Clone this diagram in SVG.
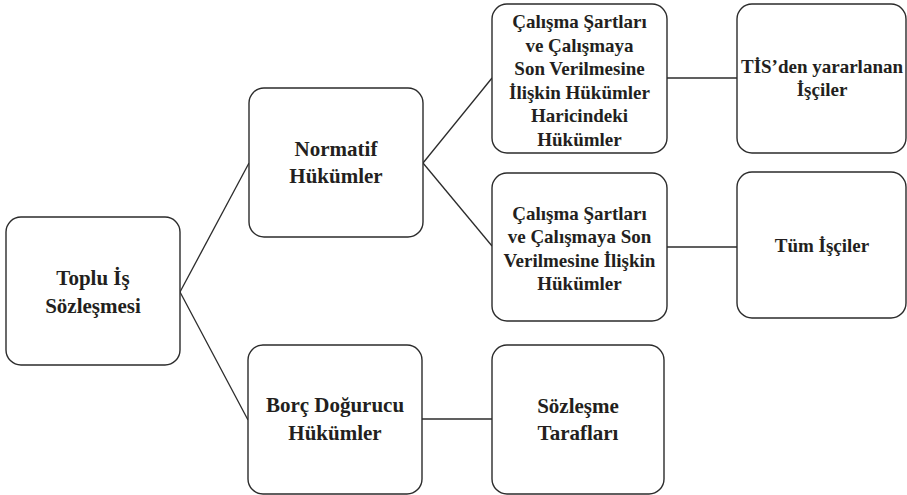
<svg xmlns="http://www.w3.org/2000/svg" width="907" height="495" viewBox="0 0 907 495">
<style>
.box{fill:#fff;stroke:#2b2b2b;stroke-width:1.4}
.t{font-family:"Liberation Serif","Times New Roman",serif;font-weight:bold;fill:#231f20;text-anchor:middle}
.l{font-size:21px}
.s{font-size:19px}
.c{stroke:#2b2b2b;stroke-width:1.3;fill:none}
</style>
<rect width="907" height="495" fill="#fff"/>
<g id="connectors">
<path class="c" d="M180 292 L249 163"/>
<path class="c" d="M180 292 L248 420"/>
<path class="c" d="M423 163 L492 78"/>
<path class="c" d="M423 163 L492 246"/>
<path class="c" d="M667 78 L737 78"/>
<path class="c" d="M667 247 L737 247"/>
<path class="c" d="M422 419 L492 419"/>
</g>
<g id="toplu">
<rect class="box" x="6" y="217" width="174" height="148" rx="15"/>
<text class="t l" x="93" y="285">Toplu İş</text>
<text class="t l" x="93" y="313">Sözleşmesi</text>
</g>
<g id="normatif">
<rect class="box" x="249" y="88" width="174" height="149" rx="15"/>
<text class="t l" x="336" y="156">Normatif</text>
<text class="t l" x="336" y="183">Hükümler</text>
</g>
<g id="haricindeki">
<rect class="box" x="492" y="4" width="175" height="149" rx="15"/>
<text class="t s" x="579.5" y="28">Çalışma Şartları</text>
<text class="t s" x="579.5" y="51.6">ve Çalışmaya</text>
<text class="t s" x="579.5" y="75.2">Son Verilmesine</text>
<text class="t s" x="579.5" y="98.8">İlişkin Hükümler</text>
<text class="t s" x="579.5" y="122.4">Haricindeki</text>
<text class="t s" x="579.5" y="146">Hükümler</text>
</g>
<g id="iliskin">
<rect class="box" x="492" y="173" width="175" height="148" rx="15"/>
<text class="t s" x="579.5" y="220">Çalışma Şartları</text>
<text class="t s" x="579.5" y="243.3">ve Çalışmaya Son</text>
<text class="t s" x="579.5" y="266.6">Verilmesine İlişkin</text>
<text class="t s" x="579.5" y="290">Hükümler</text>
</g>
<g id="tis">
<rect class="box" x="737" y="4" width="169" height="149" rx="15"/>
<text class="t s" x="822" y="73">TİS’den yararlanan</text>
<text class="t s" x="822" y="96">İşçiler</text>
</g>
<g id="tum">
<rect class="box" x="737" y="172" width="169" height="146" rx="15"/>
<text class="t s" x="822" y="252">Tüm İşçiler</text>
</g>
<g id="borc">
<rect class="box" x="248" y="345" width="174" height="149" rx="15"/>
<text class="t l" x="335" y="412">Borç Doğurucu</text>
<text class="t l" x="335" y="440">Hükümler</text>
</g>
<g id="taraflar">
<rect class="box" x="492" y="345" width="172" height="149" rx="15"/>
<text class="t l" x="578" y="413">Sözleşme</text>
<text class="t l" x="578" y="440">Tarafları</text>
</g>
</svg>
